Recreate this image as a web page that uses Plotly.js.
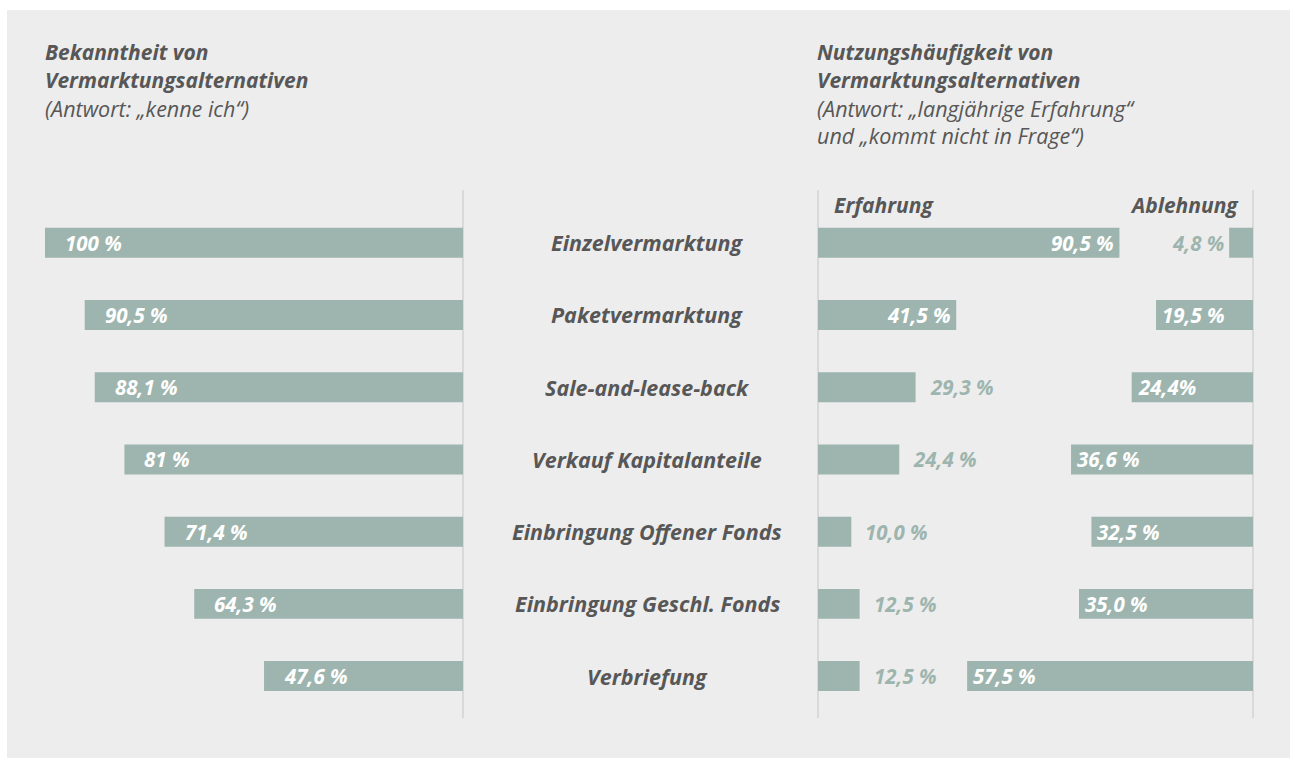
<!DOCTYPE html>
<html><head><meta charset="utf-8">
<script src="https://cdn.plot.ly/plotly-3.0.1.min.js"></script>
<style>html,body{margin:0;padding:0;background:#fff;}</style>
</head><body>
<div id="chart" style="width:1290px;height:758px;"></div>
<script>
const categories = ["Einzelvermarktung","Paketvermarktung","Sale-and-lease-back","Verkauf Kapitalanteile","Einbringung Offener Fonds","Einbringung Geschl. Fonds","Verbriefung"];
const bekanntheit = [100, 90.5, 88.1, 81, 71.4, 64.3, 47.6];
const bekanntheitLabels = ["100 %","90,5 %","88,1 %","81 %","71,4 %","64,3 %","47,6 %"];
const erfahrung = [90.5, 41.5, 29.3, 24.4, 10.0, 12.5, 12.5];
const erfahrungLabels = ["90,5 %","41,5 %","29,3 %","24,4 %","10,0 %","12,5 %","12,5 %"];
const ablehnung = [4.8, 19.5, 24.4, 36.6, 32.5, 35.0, 57.5];
const ablehnungLabels = ["4,8 %","19,5 %","24,4%","36,6 %","32,5 %","35,0 %","57,5 %"];
const leftTitle = ["Bekanntheit von","Vermarktungsalternativen","(Antwort: „kenne ich“)"];
const rightTitle = ["Nutzungshäufigkeit von","Vermarktungsalternativen","(Antwort: „langjährige Erfahrung“","und „kommt nicht in Frage“)"];
const headers = ["Erfahrung","Ablehnung"];

const W = 1290, H = 758;
const px = v => v / W;
const py = v => 1 - v / H;
const barColor = "#9db5ae";
const dark = "#575757";
const FAM = "Open Sans, Noto Sans, sans-serif";
const boldIt = (size, color) => ({family: FAM, size: size, color: color, weight: 700, style: "italic"});
const regIt = (size, color) => ({family: FAM, size: size, color: color, weight: 400, style: "italic"});

const barW = 0.415;
const traces = [
  {type:"bar", orientation:"h", x:bekanntheit, y:categories, xaxis:"x", yaxis:"y", marker:{color:barColor}, width:barW, hoverinfo:"none"},
  {type:"bar", orientation:"h", x:erfahrung, y:categories, xaxis:"x2", yaxis:"y", marker:{color:barColor}, width:barW, hoverinfo:"none"},
  {type:"bar", orientation:"h", x:ablehnung, y:categories, xaxis:"x3", yaxis:"y", marker:{color:barColor}, width:barW, hoverinfo:"none"}
];

const ann = [];
leftTitle.forEach((t, i) => ann.push({xref:"paper", yref:"paper", x:px(43), y:py(52 + 28*i), xanchor:"left", yanchor:"middle", showarrow:false, text:t, font: i < 2 ? boldIt(21, dark) : regIt(21.5, dark)}));
rightTitle.forEach((t, i) => ann.push({xref:"paper", yref:"paper", x:px(815), y:py(52 + 28*i), xanchor:"left", yanchor:"middle", showarrow:false, text:t, font: i < 2 ? boldIt(21, dark) : regIt(21.5, dark)}));
ann.push({xref:"paper", yref:"paper", x:px(832), y:py(205), xanchor:"left", yanchor:"middle", showarrow:false, text:headers[0], font:boldIt(21, dark)});
ann.push({xref:"paper", yref:"paper", x:px(1241), y:py(205), xanchor:"right", yanchor:"middle", showarrow:false, text:headers[1], font:boldIt(21, dark)});

categories.forEach((c, i) => {
  ann.push({xref:"paper", yref:"y", x:px(647), y:c, xanchor:"center", yanchor:"middle", showarrow:false, text:c, font:boldIt(21.5, dark)});
  ann.push({xref:"x", yref:"y", x:bekanntheit[i], y:c, xanchor:"left", yanchor:"middle", xshift:18, showarrow:false, text:bekanntheitLabels[i], font:boldIt(20.5, "#ffffff")});
  const eIn = erfahrung[i] > 35;
  ann.push({xref:"x2", yref:"y", x:erfahrung[i], y:c, xanchor: eIn ? "right" : "left", yanchor:"middle", xshift: eIn ? -3 : 12, showarrow:false, text:erfahrungLabels[i], font:boldIt(20.5, eIn ? "#ffffff" : barColor)});
  const aIn = ablehnung[i] > 10;
  ann.push({xref:"x3", yref:"y", x:ablehnung[i], y:c, xanchor: aIn ? "left" : "right", yanchor:"middle", xshift: aIn ? 4 : -3, showarrow:false, text:ablehnungLabels[i], font:boldIt(20.5, aIn ? "#ffffff" : barColor)});
});

const lineX = [463, 818, 1253];
const shapes = [
  {type:"rect", xref:"paper", yref:"paper", x0:px(7), x1:1, y0:0, y1:py(10), fillcolor:"#ededed", line:{width:0}, layer:"below"}
].concat(lineX.map(x => ({type:"line", xref:"paper", yref:"paper", x0:px(x), x1:px(x), y0:py(190), y1:py(718), line:{color:"#d2d2d2", width:1.5}, layer:"below"})));

const hidden = {showgrid:false, zeroline:false, showline:false, showticklabels:false, ticks:"", fixedrange:true};
const layout = {
  width: W, height: H,
  margin:{l:0, r:0, t:0, b:0},
  paper_bgcolor:"#ffffff", plot_bgcolor:"rgba(0,0,0,0)",
  showlegend:false,
  barmode:"overlay",
  xaxis: Object.assign({domain:[px(45), px(463)], range:[100, 0], anchor:"y"}, hidden),
  xaxis2: Object.assign({domain:[px(818), px(1253)], range:[0, 130.6], anchor:"y"}, hidden),
  xaxis3: Object.assign({domain:[px(818), px(1253)], range:[87.5, 0], anchor:"y", overlaying:"x2"}, hidden),
  yaxis: Object.assign({domain:[py(718), py(190)], type:"category", categoryarray:categories, range:[6.58, -0.73]}, hidden),
  annotations: ann,
  shapes: shapes
};
Plotly.newPlot("chart", traces, layout, {displayModeBar:false, staticPlot:true});
</script>
</body></html>
